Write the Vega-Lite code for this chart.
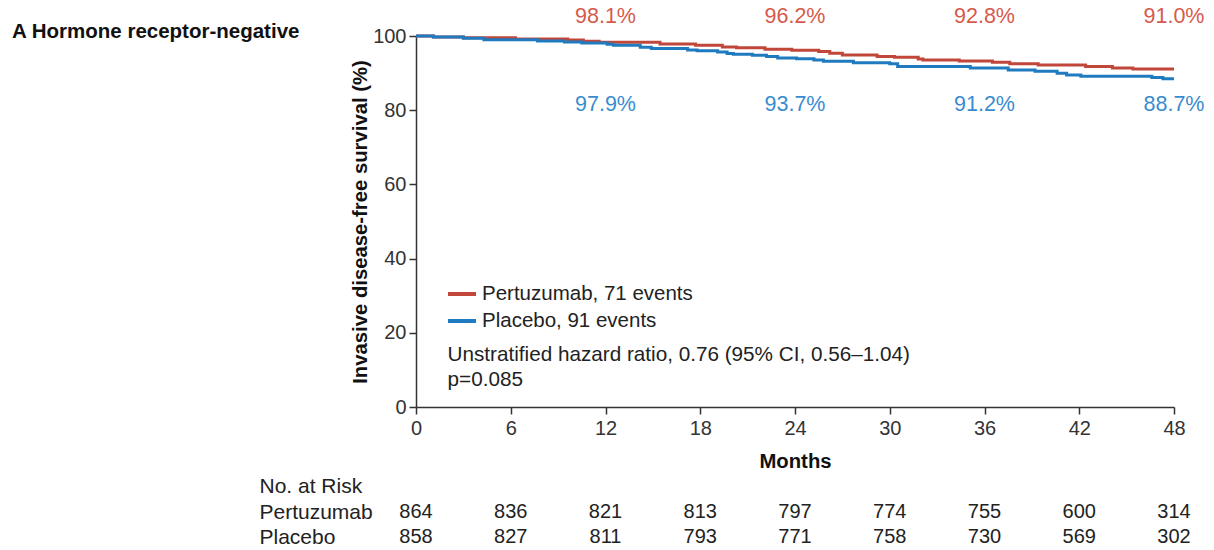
{
  "$schema": "https://vega.github.io/schema/vega-lite/v6.json",
  "background": "white",
  "padding": {"left": 12, "top": 6, "right": 10, "bottom": 0},
  "config": {
    "font": "Liberation Sans",
    "view": {"stroke": null},
    "axis": {"grid": false, "domainColor": "#333", "tickColor": "#333", "domainWidth": 1.5, "tickWidth": 1.5, "labelColor": "#333", "labelFontSize": 20, "titleFontSize": 20.3, "titleFontWeight": "bold", "titleColor": "#111"}
  },
  "title": {"text": "A Hormone receptor-negative", "anchor": "start", "frame": "group", "fontSize": 20.5, "fontWeight": "bold", "color": "#111", "dx": -404, "dy": 40},
  "datasets": {
    "km": [
      {"arm": "Pertuzumab", "month": 0, "survival": 100},
      {"arm": "Pertuzumab", "month": 1.1, "survival": 99.75},
      {"arm": "Pertuzumab", "month": 3.0, "survival": 99.5},
      {"arm": "Pertuzumab", "month": 6.3, "survival": 99.2},
      {"arm": "Pertuzumab", "month": 9.6, "survival": 98.9},
      {"arm": "Pertuzumab", "month": 10.6, "survival": 98.6},
      {"arm": "Pertuzumab", "month": 11.6, "survival": 98.3},
      {"arm": "Pertuzumab", "month": 15.45, "survival": 97.85},
      {"arm": "Pertuzumab", "month": 17.7, "survival": 97.5},
      {"arm": "Pertuzumab", "month": 19.4, "survival": 97.05},
      {"arm": "Pertuzumab", "month": 20.3, "survival": 96.8},
      {"arm": "Pertuzumab", "month": 22.1, "survival": 96.4},
      {"arm": "Pertuzumab", "month": 23.8, "survival": 96.15},
      {"arm": "Pertuzumab", "month": 25.5, "survival": 95.8},
      {"arm": "Pertuzumab", "month": 26.2, "survival": 95.35},
      {"arm": "Pertuzumab", "month": 27.0, "survival": 94.9},
      {"arm": "Pertuzumab", "month": 29.2, "survival": 94.45},
      {"arm": "Pertuzumab", "month": 30.3, "survival": 94.3},
      {"arm": "Pertuzumab", "month": 31.8, "survival": 93.8},
      {"arm": "Pertuzumab", "month": 32.1, "survival": 93.5},
      {"arm": "Pertuzumab", "month": 34.4, "survival": 93.25},
      {"arm": "Pertuzumab", "month": 36.5, "survival": 92.9},
      {"arm": "Pertuzumab", "month": 37.6, "survival": 92.55},
      {"arm": "Pertuzumab", "month": 39.4, "survival": 92.2},
      {"arm": "Pertuzumab", "month": 42.4, "survival": 91.75},
      {"arm": "Pertuzumab", "month": 44.1, "survival": 91.4},
      {"arm": "Pertuzumab", "month": 45.4, "survival": 91.1},
      {"arm": "Pertuzumab", "month": 48, "survival": 91.1},
      {"arm": "Placebo", "month": 0, "survival": 100},
      {"arm": "Placebo", "month": 1.1, "survival": 99.75},
      {"arm": "Placebo", "month": 3.0, "survival": 99.4},
      {"arm": "Placebo", "month": 4.3, "survival": 99.0},
      {"arm": "Placebo", "month": 7.7, "survival": 98.65},
      {"arm": "Placebo", "month": 9.4, "survival": 98.4},
      {"arm": "Placebo", "month": 10.5, "survival": 98.1},
      {"arm": "Placebo", "month": 12.1, "survival": 97.8},
      {"arm": "Placebo", "month": 12.5, "survival": 97.5},
      {"arm": "Placebo", "month": 14.2, "survival": 97.0},
      {"arm": "Placebo", "month": 14.9, "survival": 96.6},
      {"arm": "Placebo", "month": 17.2, "survival": 96.2},
      {"arm": "Placebo", "month": 17.8, "survival": 96.0},
      {"arm": "Placebo", "month": 19.1, "survival": 95.7},
      {"arm": "Placebo", "month": 19.7, "survival": 95.3},
      {"arm": "Placebo", "month": 20.1, "survival": 95.1},
      {"arm": "Placebo", "month": 21.3, "survival": 94.8},
      {"arm": "Placebo", "month": 22.2, "survival": 94.45},
      {"arm": "Placebo", "month": 22.9, "survival": 94.1},
      {"arm": "Placebo", "month": 24.1, "survival": 93.85},
      {"arm": "Placebo", "month": 25.2, "survival": 93.55},
      {"arm": "Placebo", "month": 25.8, "survival": 93.2},
      {"arm": "Placebo", "month": 27.7, "survival": 92.8},
      {"arm": "Placebo", "month": 30.0, "survival": 92.5},
      {"arm": "Placebo", "month": 30.5, "survival": 91.75},
      {"arm": "Placebo", "month": 35.1, "survival": 91.4},
      {"arm": "Placebo", "month": 37.5, "survival": 90.85},
      {"arm": "Placebo", "month": 39.2, "survival": 90.5},
      {"arm": "Placebo", "month": 40.6, "survival": 89.95},
      {"arm": "Placebo", "month": 41.2, "survival": 89.5},
      {"arm": "Placebo", "month": 42.1, "survival": 89.15},
      {"arm": "Placebo", "month": 46.6, "survival": 88.8},
      {"arm": "Placebo", "month": 47.3, "survival": 88.5},
      {"arm": "Placebo", "month": 48, "survival": 88.5}
    ],
    "rates": [
      {"arm": "Pertuzumab", "month": 12, "label": "98.1%"},
      {"arm": "Pertuzumab", "month": 24, "label": "96.2%"},
      {"arm": "Pertuzumab", "month": 36, "label": "92.8%"},
      {"arm": "Pertuzumab", "month": 48, "label": "91.0%"},
      {"arm": "Placebo", "month": 12, "label": "97.9%"},
      {"arm": "Placebo", "month": 24, "label": "93.7%"},
      {"arm": "Placebo", "month": 36, "label": "91.2%"},
      {"arm": "Placebo", "month": 48, "label": "88.7%"}
    ],
    "risk": [
      {"arm": "Pertuzumab", "month": 0, "n": 864},
      {"arm": "Pertuzumab", "month": 6, "n": 836},
      {"arm": "Pertuzumab", "month": 12, "n": 821},
      {"arm": "Pertuzumab", "month": 18, "n": 813},
      {"arm": "Pertuzumab", "month": 24, "n": 797},
      {"arm": "Pertuzumab", "month": 30, "n": 774},
      {"arm": "Pertuzumab", "month": 36, "n": 755},
      {"arm": "Pertuzumab", "month": 42, "n": 600},
      {"arm": "Pertuzumab", "month": 48, "n": 314},
      {"arm": "Placebo", "month": 0, "n": 858},
      {"arm": "Placebo", "month": 6, "n": 827},
      {"arm": "Placebo", "month": 12, "n": 811},
      {"arm": "Placebo", "month": 18, "n": 793},
      {"arm": "Placebo", "month": 24, "n": 771},
      {"arm": "Placebo", "month": 30, "n": 758},
      {"arm": "Placebo", "month": 36, "n": 730},
      {"arm": "Placebo", "month": 42, "n": 569},
      {"arm": "Placebo", "month": 48, "n": 302}
    ]
  },
  "vconcat": [
    {
      "width": 758,
      "height": 371,
      "layer": [
        {
          "data": {"name": "km"},
          "mark": {"type": "line", "interpolate": "step-after", "strokeWidth": 3},
          "encoding": {
            "x": {"field": "month", "type": "quantitative", "scale": {"domain": [0, 48], "nice": false}, "title": "Months",
                  "axis": {"values": [0, 6, 12, 18, 24, 30, 36, 42, 48], "tickSize": 7, "labelPadding": 4, "titlePadding": 13, "labelFlush": false}},
            "y": {"field": "survival", "type": "quantitative", "scale": {"domain": [0, 100], "nice": false}, "title": "Invasive disease-free survival (%)",
                  "axis": {"values": [0, 20, 40, 60, 80, 100], "tickSize": 7, "labelPadding": 3, "titlePadding": 2, "labelFlush": false}},
            "color": {"field": "arm", "type": "nominal", "scale": {"domain": ["Pertuzumab", "Placebo"], "range": ["#c0473a", "#1f7abf"]},
                      "legend": {"orient": "none", "legendX": 30, "legendY": 242, "title": null, "symbolType": "stroke", "symbolStrokeWidth": 4, "symbolSize": 784, "labelFontSize": 20.5, "labelColor": "#222", "labelOffset": 4, "rowPadding": 0, "padding": 0, "labelLimit": 0,
                                 "labelExpr": "datum.label == 'Pertuzumab' ? 'Pertuzumab, 71 events' : 'Placebo, 91 events'"}}
          }
        },
        {
          "data": {"name": "rates"},
          "transform": [{"filter": "datum.arm == 'Pertuzumab'"}],
          "mark": {"type": "text", "fontSize": 21.5, "color": "#d65a4c", "align": "center", "baseline": "middle"},
          "encoding": {
            "x": {"field": "month", "type": "quantitative"},
            "y": {"datum": 105.1},
            "text": {"field": "label"}
          }
        },
        {
          "data": {"name": "rates"},
          "transform": [{"filter": "datum.arm == 'Placebo'"}],
          "mark": {"type": "text", "fontSize": 21.5, "color": "#3a8ccf", "align": "center", "baseline": "middle"},
          "encoding": {
            "x": {"field": "month", "type": "quantitative"},
            "y": {"datum": 81.5},
            "text": {"field": "label"}
          }
        },
        {
          "data": {"values": [{}]},
          "mark": {"type": "text", "text": ["Unstratified hazard ratio, 0.76 (95% CI, 0.56\u20131.04)", "p=0.085"], "fontSize": 20.7, "color": "#222", "align": "left", "baseline": "top", "lineHeight": 25},
          "encoding": {
            "x": {"datum": 2.0},
            "y": {"datum": 16.6}
          }
        }
      ]
    },
    {
      "width": 758,
      "height": 76,
      "data": {"name": "risk"},
      "mark": {"type": "text", "fontSize": 20, "color": "#222"},
      "encoding": {
        "x": {"field": "month", "type": "quantitative", "scale": {"domain": [0, 48], "nice": false}, "axis": null},
        "y": {"field": "arm", "type": "nominal", "scale": {"domain": ["No. at Risk", "Pertuzumab", "Placebo"]},
              "axis": {"title": null, "labelAlign": "left", "labelPadding": 157, "ticks": false, "domain": false, "labelFontSize": 21, "labelColor": "#222", "labelFontWeight": "normal"}},
        "text": {"field": "n", "type": "quantitative"}
      }
    }
  ],
  "spacing": 2,
  "resolve": {"scale": {"x": "independent", "y": "independent"}}
}
